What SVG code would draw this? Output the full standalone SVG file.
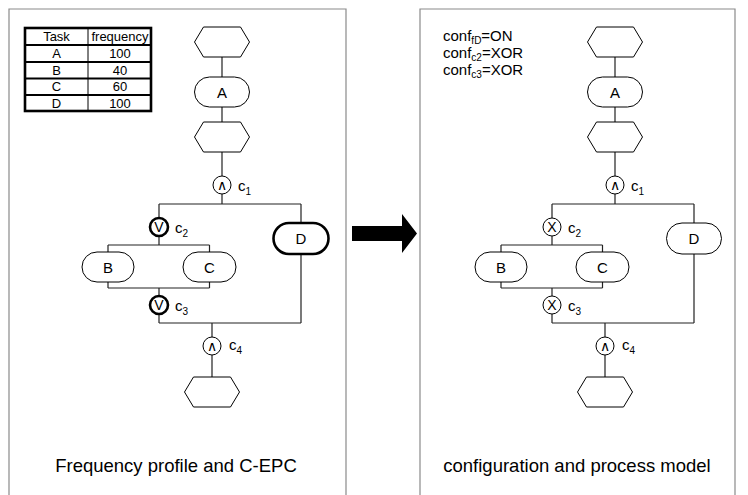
<svg xmlns="http://www.w3.org/2000/svg" width="748" height="495" viewBox="0 0 748 495">
<style>
.panel{fill:none;stroke:#8a8a8a;stroke-width:1.2}
.ln{fill:none;stroke:#222;stroke-width:1.2}
.shape{fill:#fff;stroke:#000;stroke-width:1}
.thick{fill:#fff;stroke:#000;stroke-width:2.6}
.t{font-family:"Liberation Sans",Arial,sans-serif;fill:#000}
.lbl{font-size:15px;text-anchor:middle}
.sym{font-size:14px;text-anchor:middle}
.cl{font-size:15px}
.sub{font-size:10px}
.tb{font-size:13px;text-anchor:middle}
.title{font-size:18.5px;text-anchor:middle}
.conf{font-size:15px}
</style>
<defs>
<polygon id="hex" points="-27.5,0 -18.5,-15 18.5,-15 27.5,0 18.5,15 -18.5,15"/>
</defs>

<g id="panels">
<path class="panel" d="M9,495 V9 H346 V495"/>
<path class="panel" d="M420,495 V9 H735 V495"/>
</g>

<g id="arrow">
<polygon points="352,226 402,226 402,214 417,233.5 402,253 402,241 352,241" fill="#000"/>
</g>

<g id="table">
<rect x="25" y="28" width="126" height="83" fill="#fff" stroke="#000" stroke-width="2.6"/>
<line x1="25" y1="45" x2="151" y2="45" stroke="#000" stroke-width="2"/>
<line x1="25" y1="62" x2="151" y2="62" stroke="#000" stroke-width="2"/>
<line x1="25" y1="78.5" x2="151" y2="78.5" stroke="#000" stroke-width="2"/>
<line x1="25" y1="95" x2="151" y2="95" stroke="#000" stroke-width="2"/>
<line x1="88" y1="28" x2="88" y2="111" stroke="#000" stroke-width="1"/>
<text class="t tb" x="56.5" y="41">Task</text>
<text class="t tb" x="120" y="41">frequency</text>
<text class="t tb" x="56.5" y="58">A</text>
<text class="t tb" x="120" y="58">100</text>
<text class="t tb" x="56.5" y="74.5">B</text>
<text class="t tb" x="120" y="74.5">40</text>
<text class="t tb" x="56.5" y="91">C</text>
<text class="t tb" x="120" y="91">60</text>
<text class="t tb" x="56.5" y="107.5">D</text>
<text class="t tb" x="120" y="107.5">100</text>
</g>

<g id="connectors">
<path class="ln" d="M222,57 V77 M222,107 V122 M222,152 V176 M222,194 V204 M159,204 H301 M159,204 V218 M159,236 V245 M108,245 H209.5 M108,245 V252 M209.5,245 V252 M108,282 V288 M209.5,282 V288 M108,288 H209.5 M159,288 V296 M159,314 V323 M159,323 H301 M301,204 V223 M301,254 V323 M212,323 V337 M212,355 V377"/>
<path class="ln" d="M615,57 V77 M615,107 V122 M615,152 V176 M615,194 V204 M552,204 H694 M552,204 V218 M552,236 V245 M501,245 H602.5 M501,245 V252 M602.5,245 V252 M501,282 V288 M602.5,282 V288 M501,288 H602.5 M552,288 V296 M552,314 V323 M552,323 H694 M694,204 V223 M694,254 V323 M605,323 V337 M605,355 V377"/>
</g>

<!-- Left panel nodes -->
<g id="L_e1"><use href="#hex" x="222" y="42" class="shape"/></g>
<g id="L_A"><rect class="shape" x="194.5" y="77" width="55" height="30" rx="15"/><text class="t lbl" x="222" y="97.5">A</text></g>
<g id="L_e2"><use href="#hex" x="222" y="137" class="shape"/></g>
<g id="L_c1"><circle class="shape" cx="222" cy="185" r="9"/><text class="t sym" x="222" y="190">∧</text><text class="t cl" x="238" y="191">c<tspan class="sub" dy="4">1</tspan></text></g>
<g id="L_c2"><circle class="thick" cx="159" cy="227" r="9"/><text class="t sym" x="159" y="232">V</text><text class="t cl" x="175" y="233">c<tspan class="sub" dy="4">2</tspan></text></g>
<g id="L_B"><rect class="shape" x="82" y="252" width="52" height="30" rx="15"/><text class="t lbl" x="108" y="272.5">B</text></g>
<g id="L_C"><rect class="shape" x="183" y="252" width="53" height="30" rx="15"/><text class="t lbl" x="209.5" y="272.5">C</text></g>
<g id="L_c3"><circle class="thick" cx="159" cy="305" r="9"/><text class="t sym" x="159" y="310">V</text><text class="t cl" x="175" y="311">c<tspan class="sub" dy="4">3</tspan></text></g>
<g id="L_D"><rect class="thick" x="273.5" y="223" width="55" height="31" rx="15.5"/><text class="t lbl" x="301" y="244">D</text></g>
<g id="L_c4"><circle class="shape" cx="212" cy="346" r="9"/><text class="t sym" x="212" y="351">∧</text><text class="t cl" x="229" y="350">c<tspan class="sub" dy="4">4</tspan></text></g>
<g id="L_e3"><use href="#hex" x="212" y="392" class="shape"/></g>

<!-- Right panel nodes -->
<g id="R_e1"><use href="#hex" x="615" y="42" class="shape"/></g>
<g id="R_A"><rect class="shape" x="587.5" y="77" width="55" height="30" rx="15"/><text class="t lbl" x="615" y="97.5">A</text></g>
<g id="R_e2"><use href="#hex" x="615" y="137" class="shape"/></g>
<g id="R_c1"><circle class="shape" cx="615" cy="185" r="9"/><text class="t sym" x="615" y="190">∧</text><text class="t cl" x="631" y="191">c<tspan class="sub" dy="4">1</tspan></text></g>
<g id="R_c2"><circle class="shape" cx="552" cy="227" r="9"/><text class="t sym" x="552" y="232">X</text><text class="t cl" x="568" y="233">c<tspan class="sub" dy="4">2</tspan></text></g>
<g id="R_B"><rect class="shape" x="475" y="252" width="52" height="30" rx="15"/><text class="t lbl" x="501" y="272.5">B</text></g>
<g id="R_C"><rect class="shape" x="576" y="252" width="53" height="30" rx="15"/><text class="t lbl" x="602.5" y="272.5">C</text></g>
<g id="R_c3"><circle class="shape" cx="552" cy="305" r="9"/><text class="t sym" x="552" y="310">X</text><text class="t cl" x="568" y="311">c<tspan class="sub" dy="4">3</tspan></text></g>
<g id="R_D"><rect class="shape" x="666.5" y="223" width="55" height="31" rx="15.5"/><text class="t lbl" x="694" y="244">D</text></g>
<g id="R_c4"><circle class="shape" cx="605" cy="346" r="9"/><text class="t sym" x="605" y="351">∧</text><text class="t cl" x="622" y="350">c<tspan class="sub" dy="4">4</tspan></text></g>
<g id="R_e3"><use href="#hex" x="605" y="392" class="shape"/></g>

<g id="conf">
<text class="t conf" x="443" y="41">conf<tspan class="sub" dy="3">fD</tspan><tspan dy="-3">=ON</tspan></text>
<text class="t conf" x="443" y="58">conf<tspan class="sub" dy="3">c2</tspan><tspan dy="-3">=XOR</tspan></text>
<text class="t conf" x="443" y="75">conf<tspan class="sub" dy="3">c3</tspan><tspan dy="-3">=XOR</tspan></text>
</g>

<g id="titles">
<text class="t title" x="176" y="472">Frequency profile and C-EPC</text>
<text class="t title" x="577" y="472">configuration and process model</text>
</g>
</svg>
